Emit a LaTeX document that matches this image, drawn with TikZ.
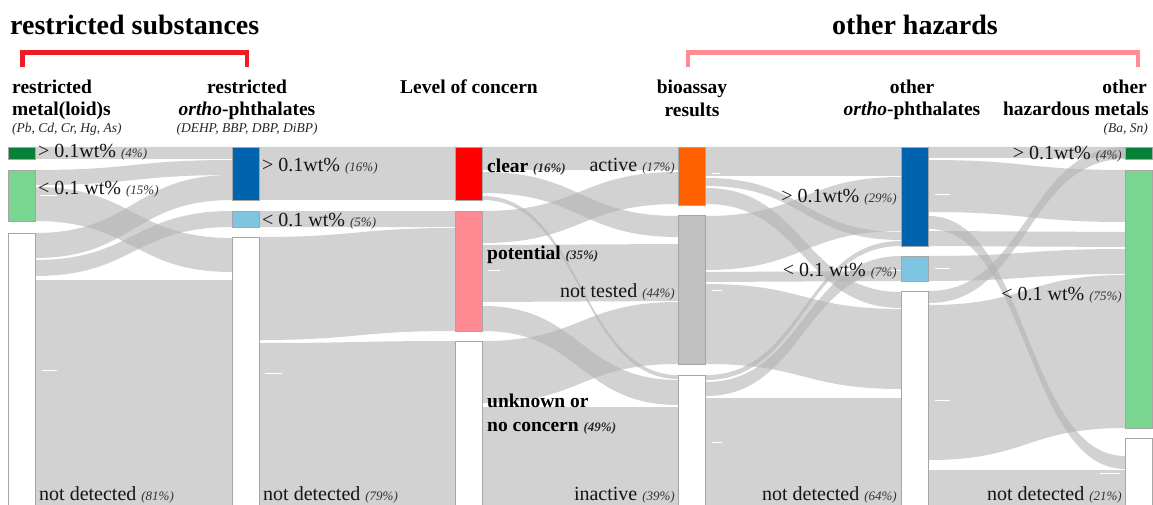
\documentclass[tikz,border=0pt]{standalone}
\usepackage{fontspec}
\setmainfont{Liberation Serif}
\definecolor{dgreen}{RGB}{8,128,56}
\definecolor{lgreen}{RGB}{120,214,145}
\definecolor{dblue}{RGB}{0,99,173}
\definecolor{lblue}{RGB}{125,197,225}
\definecolor{cred}{RGB}{255,0,0}
\definecolor{cpink}{RGB}{255,138,146}
\definecolor{corange}{RGB}{255,96,0}
\definecolor{cgray}{RGB}{192,192,192}
\definecolor{brred}{RGB}{238,28,37}
\definecolor{brpink}{RGB}{255,140,148}
\newcommand{\pcta}[1]{{\fontsize{13}{15}\selectfont\itshape\color{black!80}#1}}
\newcommand{\pctb}[1]{{\fontsize{13}{15}\selectfont\itshape\bfseries\color{black!85}#1}}
\newcommand{\flw}[6]{%
  \pgfmathsetmacro{\flowmid}{(#1+#4)/2}%
  \fill[flowfill] (#1,#2) .. controls (\flowmid,#2) and (\flowmid,#5) .. (#4,#5) -- (#4,#6) .. controls (\flowmid,#6) and (\flowmid,#3) .. (#1,#3) -- cycle;}
\begin{document}
\begin{tikzpicture}[x=1pt,y=-1pt,
  flowfill/.style={fill=black!30, fill opacity=0.575},
  bar/.style={draw=black!35, line width=0.7pt, inner sep=0pt, outer sep=0pt, minimum width=27.5pt, anchor=north west},
  lbl/.style={font=\fontsize{20}{22}\selectfont, inner sep=0pt, text=black!92},
  blbl/.style={font=\fontsize{19.5}{22}\selectfont\bfseries, inner sep=0pt, text=black},
  hd/.style={font=\fontsize{19.5}{22}\selectfont\bfseries, inner sep=0pt},
  sub/.style={font=\fontsize{13.5}{15}\selectfont\itshape, inner sep=0pt, text=black!85},
  ttl/.style={font=\fontsize{28}{32}\selectfont\bfseries, inner sep=0pt},
  bracket/.style={line width=4.5pt},
  whitedash/.style={draw=white, line width=1pt}]
\useasboundingbox (0,0) rectangle (1153,505);
\fill[white] (0,0) rectangle (1153,505);

% ---------- flows col1 -> col2
\flw{35}{147}{159}{232}{147}{159}
\flw{35}{170}{185}{232}{160}{175}
\flw{35}{187}{221}{232}{238}{272}
\flw{35}{233}{258}{232}{175}{200}
\flw{35}{260}{276}{232}{211}{227}
\flw{35}{280}{515}{232}{280}{515}
% ---------- flows col2 -> col3
\flw{259}{147}{200}{455}{147}{200}
\flw{259}{211}{227}{455}{211}{227}
\flw{259}{237}{340}{455}{228}{331}
\flw{259}{343}{515}{455}{341}{515}
% ---------- flows col3 -> col4
\flw{483}{147}{170}{678}{147}{170}
\flw{483}{172}{193}{678}{216}{237}
\flw{483}{196}{200}{678}{375}{379}
\flw{483}{211}{243}{678}{172}{204}
\flw{483}{245}{302}{678}{244}{301}
\flw{483}{306}{331}{678}{380}{405}
\flw{483}{341}{403}{678}{302}{364}
\flw{483}{407}{515}{678}{407}{515}
% ---------- flows col4 -> col5
\flw{706}{147}{176}{901}{147}{176}
\flw{706}{178}{186}{901}{232}{240}
\flw{706}{188}{204}{901}{292}{308}
\flw{706}{216}{270}{901}{177}{231}
\flw{706}{272}{282}{901}{271}{281}
\flw{706}{284}{364}{901}{309}{389}
\flw{706}{375}{380}{901}{241}{246}
\flw{706}{382}{396}{901}{256}{270}
\flw{706}{398}{515}{901}{398}{515}
% ---------- flows col5 -> col6
\flw{929}{147}{158}{1125}{147}{158}
\flw{929}{160}{212}{1125}{170}{222}
\flw{929}{216}{229}{1125}{456}{469}
\flw{929}{231}{246}{1125}{232}{247}
\flw{929}{256}{281}{1125}{249}{274}
\flw{929}{291}{303}{1125}{147}{159}
\flw{929}{305}{460}{1125}{275}{428}
\flw{929}{470}{515}{1125}{470}{515}

% ---------- small white dashes
\draw[whitedash] (40,196) -- (57,196);
\draw[whitedash] (42,370) -- (57,370);
\draw[whitedash] (265,373) -- (282,373);
\draw[whitedash] (488,270) -- (500,270);
\draw[whitedash] (712,174) -- (720,174);
\draw[whitedash] (712,290) -- (722,290);
\draw[whitedash] (712,442) -- (722,442);
\draw[whitedash] (935,195) -- (950,195);
\draw[whitedash] (935,268) -- (950,268);
\draw[whitedash] (935,400) -- (950,400);
\draw[whitedash] (1100,473) -- (1120,473);

% ---------- bars
\node[bar, fill=dgreen, minimum height=12pt] (m1) at (8,147) {};
\node[bar, fill=lgreen, minimum height=51pt] (m2) at (8,170) {};
\node[bar, fill=white, minimum height=282pt] (m3) at (8,233) {};
\node[bar, fill=dblue, minimum height=53pt] (p1) at (232,147) {};
\node[bar, fill=lblue, minimum height=16pt] (p2) at (232,211) {};
\node[bar, fill=white, minimum height=278pt] (p3) at (232,237) {};
\node[bar, fill=cred, minimum height=53pt] (c1) at (455,147) {};
\node[bar, fill=cpink, minimum height=120pt] (c2) at (455,211) {};
\node[bar, fill=white, minimum height=174pt] (c3) at (455,341) {};
\node[bar, fill=corange, minimum height=58pt] (b1) at (678,147) {};
\node[bar, fill=cgray, minimum height=149pt] (b2) at (678,215) {};
\node[bar, fill=white, minimum height=140pt] (b3) at (678,375) {};
\node[bar, fill=dblue, minimum height=99pt] (o1) at (901,147) {};
\node[bar, fill=lblue, minimum height=25pt] (o2) at (901,256) {};
\node[bar, fill=white, minimum height=224pt] (o3) at (901,291) {};
\node[bar, fill=dgreen, minimum height=12pt] (h1) at (1125,147) {};
\node[bar, fill=lgreen, minimum height=258pt] (h2) at (1125,170) {};
\node[bar, fill=white, minimum height=77pt] (h3) at (1125,438) {};

% ---------- bar labels
\node[lbl, anchor=base west] (lm1) at (38,158) {> 0.1wt\% \pcta{(4\%)}};
\node[lbl, anchor=base west] (lm2) at (38,195) {< 0.1 wt\% \pcta{(15\%)}};
\node[lbl, anchor=base west] (lm3) at (39,500) {not detected \pcta{(81\%)}};
\node[lbl, anchor=base west] (lp1) at (262,172) {> 0.1wt\% \pcta{(16\%)}};
\node[lbl, anchor=base west] (lp2) at (262,226) {< 0.1 wt\% \pcta{(5\%)}};
\node[lbl, anchor=base west] (lp3) at (263,500) {not detected \pcta{(79\%)}};
\node[blbl, anchor=base west] (lc1) at (487,173) {clear \pctb{(16\%)}};
\node[blbl, anchor=base west] (lc2) at (487,259) {potential \pctb{(35\%)}};
\node[blbl, anchor=base west] (lc3) at (487,407) {unknown or};
\node[blbl, anchor=base west] (lc4) at (487,431) {no concern \pctb{(49\%)}};
\node[lbl, anchor=base east] (lb1) at (675,172) {active \pcta{(17\%)}};
\node[lbl, anchor=base east] (lb2) at (675,297) {not tested \pcta{(44\%)}};
\node[lbl, anchor=base east] (lb3) at (675,500) {inactive \pcta{(39\%)}};
\node[lbl, anchor=base east] (lo1) at (897,202) {> 0.1wt\% \pcta{(29\%)}};
\node[lbl, anchor=base east] (lo2) at (897,276) {< 0.1 wt\% \pcta{(7\%)}};
\node[lbl, anchor=base east] (lo3) at (897,500) {not detected \pcta{(64\%)}};
\node[lbl, anchor=base east] (lh1) at (1122,160) {> 0.1wt\% \pcta{(4\%)}};
\node[lbl, anchor=base east] (lh2) at (1122,300) {< 0.1 wt\% \pcta{(75\%)}};
\node[lbl, anchor=base east] (lh3) at (1122,500) {not detected \pcta{(21\%)}};

% ---------- column headings
\node[hd, anchor=base west] (hm1) at (12,94) {restricted};
\node[hd, anchor=base west] (hm2) at (12,116) {metal(loid)s};
\node[sub, anchor=base west] (hm3) at (12,133) {(Pb, Cd, Cr, Hg, As)};
\node[hd, anchor=base] (hp1) at (247,94) {restricted};
\node[hd, anchor=base] (hp2) at (247,116) {\textit{ortho}-phthalates};
\node[sub, anchor=base] (hp3) at (247,133) {(DEHP, BBP, DBP, DiBP)};
\node[hd, anchor=base] (hc1) at (469,94) {Level of concern};
\node[hd, anchor=base] (hb1) at (692,94) {bioassay};
\node[hd, anchor=base] (hb2) at (692,117) {results};
\node[hd, anchor=base] (ho1) at (912,94) {other};
\node[hd, anchor=base] (ho2) at (912,116) {\textit{ortho}-phthalates};
\node[hd, anchor=base east] (hh1) at (1147,94) {other};
\node[hd, anchor=base east] (hh2) at (1149,116) {hazardous metals};
\node[sub, anchor=base east] (hh3) at (1148,133) {(Ba, Sn)};

% ---------- group titles and brackets
\node[ttl, anchor=base west] (t1) at (10,35) {restricted substances};
\node[ttl, anchor=base] (t2) at (915,35) {other hazards};
\draw[bracket, brred] (22.5,67) -- (22.5,52.5) -- (247,52.5) -- (247,67);
\draw[bracket, brpink] (688,67) -- (688,52.5) -- (1138,52.5) -- (1138,67);
\end{tikzpicture}
\end{document}
